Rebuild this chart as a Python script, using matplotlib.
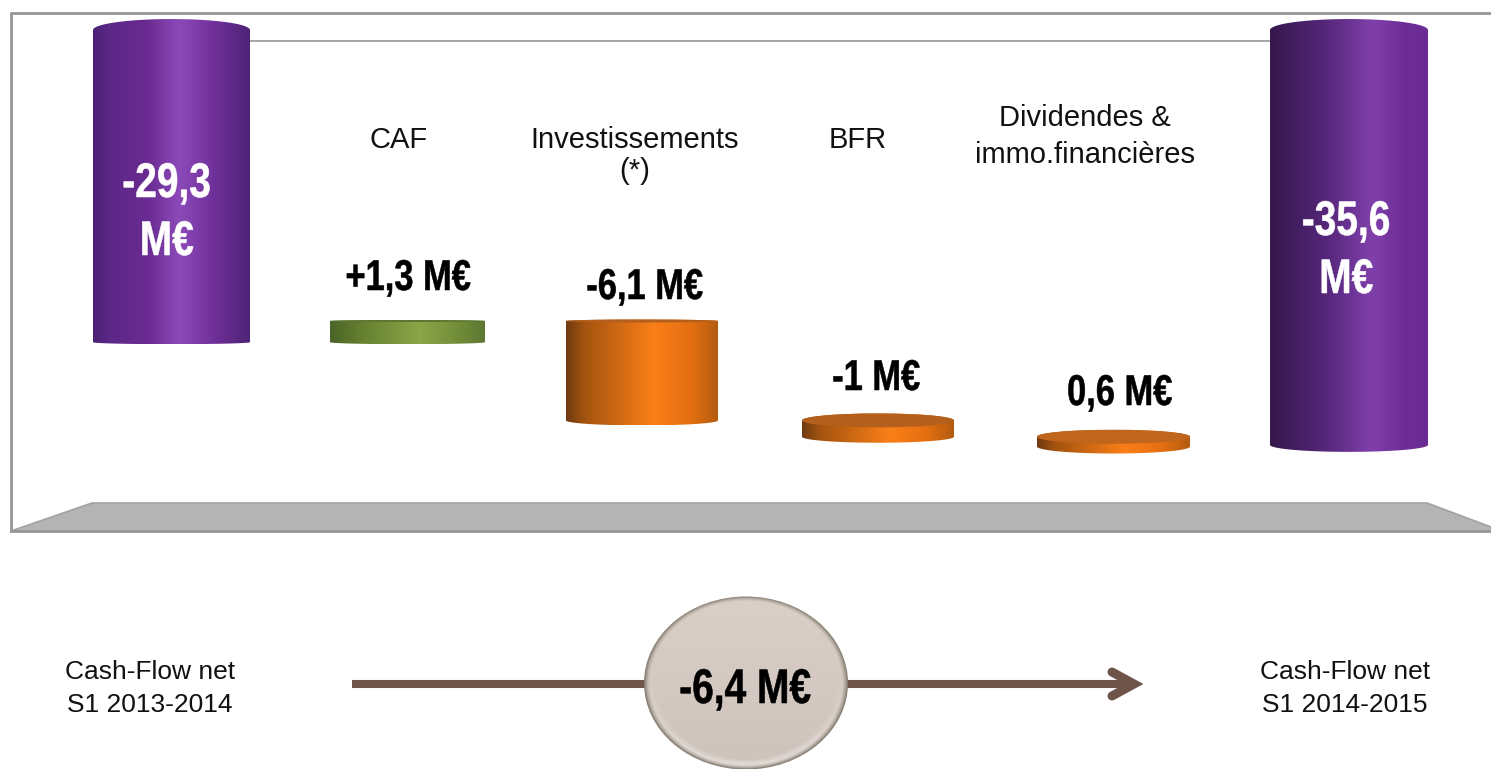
import numpy as np
import matplotlib; matplotlib.use('Agg')
import matplotlib.pyplot as plt
import matplotlib.patheffects as pe
from matplotlib.colors import LinearSegmentedColormap
from matplotlib.patches import Ellipse, PathPatch, Polygon
from matplotlib.path import Path
from matplotlib.transforms import Affine2D

plt.rcParams['font.family'] = ['Liberation Sans', 'DejaVu Sans']

# ── Data (M€) ──
cash_start = -29.3
cash_end = -35.6
steps = [1.3, -6.1, -1.0, -0.6]
axis_top = -10.15   # the totals are cut off here, the axis does not reach 0

step_names = ['CAF', 'Investissements\n(*)', 'BFR', 'Dividendes &\nimmo.financières']
step_labels = ['+1,3 M€', '-6,1 M€', '-1 M€', '0,6 M€']
total_labels = ['-29,3\nM€', '-35,6\nM€']
net_change_label = '-6,4 M€'
period_labels = ['Cash-Flow net\nS1 2013-2014', 'Cash-Flow net\nS1 2014-2015']

# ── Colours ──
PURPLE_L = [(0, '#4a2274'), (.1, '#5c2786'), (.35, '#6a2b92'), (.55, '#8c4ab9'), (.78, '#6f2f98'), (1, '#4e2477')]
PURPLE_R = [(0, '#35184c'), (.12, '#3f1d5c'), (.35, '#55267a'), (.65, '#8040ab'), (.85, '#6c2d96'), (1, '#6a2c94')]
GREEN = [(0, '#4b6428'), (.2, '#64802f'), (.58, '#8ba648'), (.85, '#6f8b38'), (1, '#5c7732')]
ORANGE = [(0, '#6f3a12'), (.12, '#a4540f'), (.58, '#fb7f18'), (.82, '#e46f11'), (1, '#b35c10')]
GREY_LINE = '#969696'
FLOOR = '#b4b4b4'
ARROW = '#6f5449'

W, H = 1491, 769
fig = plt.figure(figsize=(W / 100, H / 100), dpi=100, facecolor='white')

# background layer in pixel units, value layer in M€ on top of it
bg = fig.add_axes([0, 0, 1, 1])
bg.set_xlim(0, W); bg.set_ylim(H, 0); bg.axis('off')
ax = fig.add_axes([0, 0, 1, 1], facecolor='none')
ax.axis('off')
PX_PER_ME = 16.3
ylim = (-28 - (H - 321) / PX_PER_ME, -28 + 321 / PX_PER_ME)


class Squeeze(pe.AbstractPathEffect):
    # narrows a line of text around its own centre and fattens it a little,
    # there is no condensed bold font here
    def __init__(self, fx, weight):
        super().__init__()
        self.fx = fx
        self.weight = weight

    def draw_path(self, renderer, gc, tpath, affine, rgbFace=None):
        box = tpath.get_extents(affine)
        xc = (box.x0 + box.x1) / 2
        squeeze = Affine2D().translate(-xc, 0).scale(self.fx, 1).translate(xc, 0)
        gc0 = renderer.new_gc()
        gc0.copy_properties(gc)
        gc0.set_linewidth(self.weight)
        gc0.set_foreground(rgbFace)
        renderer.draw_path(gc0, tpath, affine + squeeze, rgbFace)
        gc0.restore()


def cylinder(x0, x1, v_top, v_bot, ry_top, ry_bot, stops, top_color=None):
    cmap = LinearSegmentedColormap.from_list('c', stops)
    xc, rx = (x0 + x1) / 2, (x1 - x0) / 2
    rt, rb = ry_top / PX_PER_ME, ry_bot / PX_PER_ME
    t = np.linspace(0, np.pi, 60)
    top = np.c_[xc - rx * np.cos(t), v_top + rt * np.sin(t)]
    bot = np.c_[xc + rx * np.cos(t), v_bot - rb * np.sin(t)]
    verts = np.vstack([top, bot, top[:1]])
    clip = PathPatch(Path(verts), fc='none', ec='none', transform=ax.transData)
    ax.add_patch(clip)
    im = ax.imshow(np.linspace(0, 1, 256)[None, :], cmap=cmap, aspect='auto', zorder=2,
                   extent=(x0, x1, v_bot - rb, v_top + rt), interpolation='bilinear')
    im.set_clip_path(clip)
    if top_color is not None:
        # upper face of the disc, seen from above
        lid = Ellipse((xc, v_top), 2 * rx, 2 * rt, fc=top_color, ec='none', zorder=3)
        ax.add_patch(lid)


def label(x, baselines, text, size, color='#111111', bold=False):
    # each line is placed on its own baseline
    for y, line in zip(baselines, text.split('\n')):
        t = ax.text(x, y, line, transform=bg.transData, ha='center', va='baseline', fontsize=size,
                    color=color, fontweight='bold' if bold else 'normal', zorder=6)
        if bold:
            t.set_path_effects([Squeeze(0.8, 0.4)])


# ── Frame and floor ──
bg.add_patch(Polygon([(11, 531), (92, 503), (1427, 503), (1491, 527), (1491, 531)],
                     fc=FLOOR, ec='none'))
bg.plot([11, 92, 1427, 1491], [531, 503, 503, 527], color='#a2a2a2', lw=1.2)
bg.plot([1491, 11, 11, 1491], [13, 13, 531, 531], color=GREY_LINE, lw=2, solid_joinstyle='miter')
bg.plot([250, 1270], [41, 41], color=GREY_LINE, lw=1.2)

# ── Bars ──
levels = cash_start + np.cumsum([0] + steps)
cylinder(93, 250, axis_top, cash_start, 11, 2, PURPLE_L)
cylinder(1270, 1428, axis_top, cash_end, 11, 7, PURPLE_R)

step_x = [(330, 485), (566, 718), (802, 954), (1037, 1190)]
step_ry = [(1, 2), (1.5, 5), (7, 6), (7, 7)]
step_stops = [GREEN, ORANGE, ORANGE, ORANGE]
step_lids = ['#5f7430', '#b4601c', '#b4601c', '#c0651c']
for i, d in enumerate(steps):
    cylinder(*step_x[i], max(levels[i], levels[i + 1]), min(levels[i], levels[i + 1]),
             *step_ry[i], step_stops[i], step_lids[i])
ax.set_xlim(0, W)
ax.set_ylim(*ylim)

# ── Arrow and bubble ──
bg.plot([352, 1130], [684, 684], color=ARROW, lw=5.8, solid_capstyle='butt')
bg.plot([1112, 1134, 1112], [672, 684, 696], color=ARROW, lw=6.5, solid_capstyle='round',
        solid_joinstyle='miter')

cx, cy, rx, ry = 746, 683, 102, 86.5
xx, yy = np.meshgrid(np.linspace(-1, 1, 420), np.linspace(-1, 1, 360))
r = np.hypot(xx, yy)
body = np.array([.83, .79, .76])[None, None, :] + (yy * -.025)[:, :, None]
rim = np.clip((r - .88) / .07, 0, 1)[:, :, None] * np.clip(yy + .1, 0, 1)[:, :, None]
edge = np.clip((r - .94) / .06, 0, 1)[:, :, None] ** 1.5
shade = body * (1 - rim) + np.array([.9, .87, .85]) * rim
shade = shade * (1 - edge) + np.array([.5, .47, .42]) * edge
bubble = Ellipse((cx, cy), 2 * rx, 2 * ry, fc='none', ec='none', transform=bg.transData)
bg.add_patch(bubble)
im = bg.imshow(np.clip(shade, 0, 1), extent=(cx - rx, cx + rx, cy + ry, cy - ry), aspect='auto', zorder=3)
im.set_clip_path(bubble)
bg.set_xlim(0, W); bg.set_ylim(H, 0)

# ── Text ──
name_x = [399, 635, 858, 1085]
name_base = [[148], [148, 179], [148], [126, 163]]
for x, b, s in zip(name_x, name_base, step_names):
    label(x, b, s, 21)

label_x = [408, 644.5, 876, 1119.5]
label_base = [[290], [299], [390], [405]]
for x, b, s in zip(label_x, label_base, step_labels):
    label(x, b, s, 31, color='black', bold=True)

label(166.5, [197, 255], total_labels[0], 35, color='white', bold=True)
label(1346, [235, 293], total_labels[1], 35, color='white', bold=True)
label(745, [703], net_change_label, 35, color='black', bold=True)

for x, s in zip([150, 1345], period_labels):
    label(x, [679, 712], s, 19)

fig.savefig('out.png', dpi=100, facecolor='white')
plt.close()
